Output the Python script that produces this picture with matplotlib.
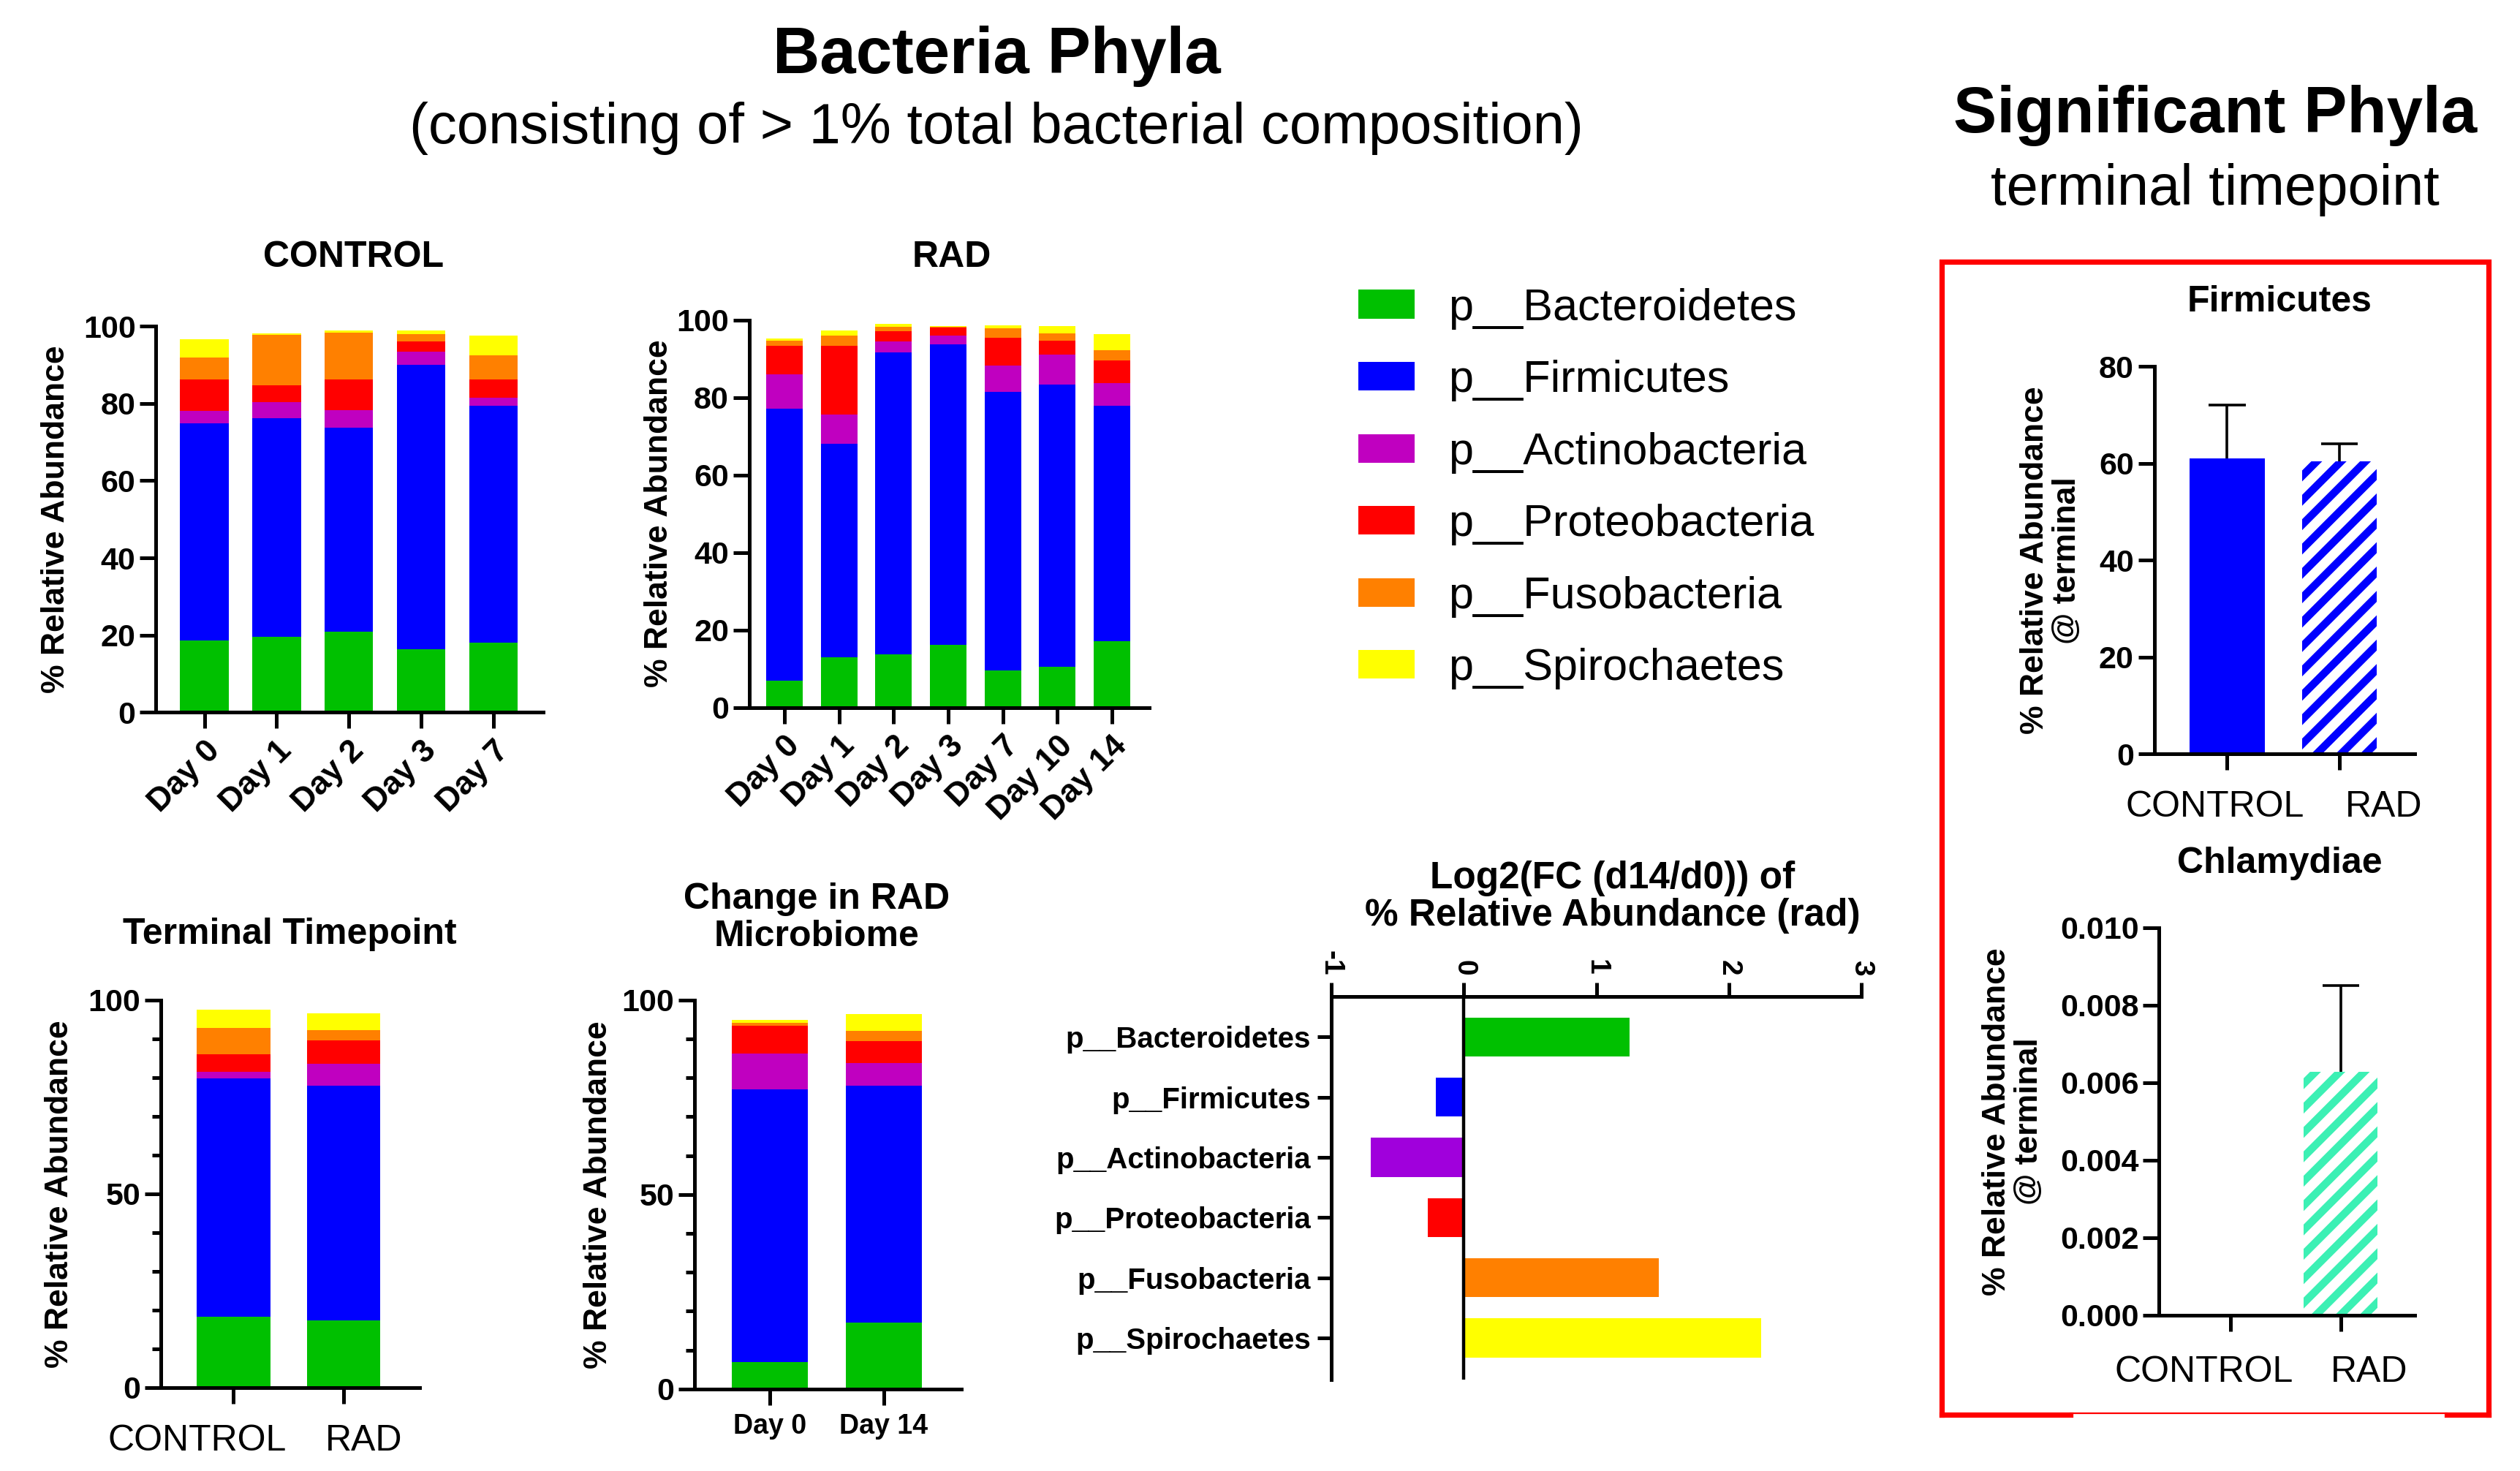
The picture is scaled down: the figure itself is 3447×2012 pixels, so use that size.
import numpy as np
import matplotlib
matplotlib.use('Agg')
import matplotlib.pyplot as plt
from matplotlib.ticker import MultipleLocator
from matplotlib.lines import Line2D
from matplotlib.patches import Patch
import matplotlib.transforms as mtransforms

plt.rcParams['font.family'] = ['Liberation Sans', 'DejaVu Sans']
plt.rcParams['axes.unicode_minus'] = False
plt.rcParams['hatch.linewidth'] = 3.8

# ---------------- data ----------------
phyla = ['p__Bacteroidetes', 'p__Firmicutes', 'p__Actinobacteria',
         'p__Proteobacteria', 'p__Fusobacteria', 'p__Spirochaetes']
colors = ['#00C000', '#0000FF', '#C000C0', '#FF0000', '#FF8000', '#FFFF00']
log2_colors = ['#00C000', '#0000FF', '#A000DC', '#FF0000', '#FF8000', '#FFFF00']

control_days = ['Day 0', 'Day 1', 'Day 2', 'Day 3', 'Day 7']
control_bact = [18.6, 19.6, 20.8, 16.3, 18.1]
control_firm = [56.3, 56.6, 52.9, 73.8, 61.4]
control_actino = [3.1, 4.1, 4.6, 3.3, 2.0]
control_proteo = [8.2, 4.4, 7.9, 2.6, 4.7]
control_fuso = [5.8, 13.1, 12.2, 1.9, 6.2]
control_spiro = [4.7, 0.4, 0.6, 1.0, 5.3]

rad_days = ['Day 0', 'Day 1', 'Day 2', 'Day 3', 'Day 7', 'Day 10', 'Day 14']
rad_bact = [6.8, 13.0, 13.7, 16.1, 9.6, 10.4, 17.0]
rad_firm = [70.2, 55.1, 78.0, 77.5, 71.8, 73.0, 60.9]
rad_actino = [9.0, 7.4, 2.7, 2.3, 6.9, 7.6, 5.8]
rad_proteo = [7.4, 17.9, 2.7, 2.1, 7.1, 3.6, 5.9]
rad_fuso = [1.2, 2.5, 1.2, 0.2, 2.4, 2.0, 2.6]
rad_spiro = [0.6, 1.3, 0.7, 0.3, 0.8, 1.8, 4.1]

groups = ['CONTROL', 'RAD']
term_bact = [18.3, 17.3]
term_firm = [61.5, 60.6]
term_actino = [1.7, 5.7]
term_proteo = [4.5, 6.0]
term_fuso = [6.7, 2.7]
term_spiro = [4.8, 4.3]

change_days = ['Day 0', 'Day 14']
change_bact = [7.0, 17.1]
change_firm = [70.1, 60.8]
change_actino = [9.1, 5.8]
change_proteo = [7.1, 5.8]
change_fuso = [0.8, 2.6]
change_spiro = [0.8, 4.2]

log2fc = [1.25, -0.21, -0.70, -0.27, 1.47, 2.24]

firm_mean = [61.1, 60.5]
firm_err = [10.9, 3.6]
chlam_mean = [0.0, 0.00628]
chlam_err = [0.0, 0.00223]

# ---------------- layout helpers ----------------
W, H = 1568.0, 915.0


def rect(l, r, b, t):
    return [l / W, 1 - b / H, (r - l) / W, (b - t) / H]


def fx(x):
    return x / W


def fy(y):
    return 1 - y / H


fig = plt.figure(figsize=(17.24, 10.06), dpi=200)

LW = 1.8


def base_style(ax):
    for s in ['top', 'right']:
        ax.spines[s].set_visible(False)
    for s in ['left', 'bottom']:
        ax.spines[s].set_linewidth(LW)
    ax.tick_params(axis='both', which='major', width=LW, length=8, direction='out', color='black')
    ax.tick_params(axis='y', which='major', pad=2)


def stacked(ax, cats, layers):
    x = np.arange(len(cats))
    bottom = np.zeros(len(cats))
    for vals, c in zip(layers, colors):
        ax.bar(x, vals, bottom=bottom, width=0.67, color=c, linewidth=0)
        bottom += np.array(vals)
    return x


def shift_labels(ax, offsets):
    for lab, dx in zip(ax.get_xticklabels(), offsets):
        lab.set_transform(lab.get_transform() +
                          mtransforms.ScaledTranslation(dx / 72.0, 0, fig.dpi_scale_trans))


def ylab(ax, text, xc, size=16):
    ax.set_ylabel(text, fontsize=size, fontweight='bold', linespacing=1.1)
    ax.yaxis.label.set_va('center')
    ax.yaxis.set_label_coords(xc, 0.5)


# ---------------- CONTROL ----------------
ax = fig.add_axes(rect(97, 338, 443, 203))
x = stacked(ax, control_days, [control_bact, control_firm, control_actino,
                               control_proteo, control_fuso, control_spiro])
base_style(ax)
ax.set_xlim(-0.67, len(control_days) - 1 + 0.69)
ax.set_ylim(0, 100)
ax.set_yticks(np.arange(0, 101, 20), labels=[str(v) for v in range(0, 101, 20)],
              fontsize=15.5, fontweight='bold')
ax.set_xticks(x, labels=control_days, fontsize=16, fontweight='bold',
              rotation=45, ha='right', rotation_mode='anchor')
ylab(ax, '% Relative Abundance', (35 - 97) / 241)
fig.text(fx(220), fy(160), 'CONTROL', ha='center', va='center', fontsize=18, fontweight='bold')

# ---------------- RAD ----------------
ax = fig.add_axes(rect(466, 715, 440, 199))
x = stacked(ax, rad_days, [rad_bact, rad_firm, rad_actino, rad_proteo, rad_fuso, rad_spiro])
base_style(ax)
ax.set_xlim(-0.65, len(rad_days) - 1 + 0.69)
ax.set_ylim(0, 100)
ax.set_yticks(np.arange(0, 101, 20), labels=[str(v) for v in range(0, 101, 20)],
              fontsize=15.5, fontweight='bold')
ax.set_xticks(x, labels=rad_days, fontsize=16, fontweight='bold',
              rotation=45, ha='right', rotation_mode='anchor')
ylab(ax, '% Relative Abundance', (410 - 466) / 249)
fig.text(fx(592), fy(160), 'RAD', ha='center', va='center', fontsize=18, fontweight='bold')

# ---------------- Legend ----------------
handles = [Patch(facecolor=c, edgecolor='none') for c in colors]
fig.legend(handles, phyla, loc='upper left', bbox_to_anchor=(fx(845), fy(179)),
           frameon=False, fontsize=22, handlelength=1.26, handleheight=0.61,
           handletextpad=0.75, labelspacing=0.68, borderpad=0, borderaxespad=0)

# ---------------- Terminal Timepoint ----------------
ax = fig.add_axes(rect(100, 261, 863, 622))
x = stacked(ax, groups, [term_bact, term_firm, term_actino, term_proteo, term_fuso, term_spiro])
base_style(ax)
ax.set_xlim(-0.66, len(groups) - 1 + 0.69)
ax.set_ylim(0, 100)
ax.set_yticks([0, 50, 100], labels=['0', '50', '100'], fontsize=15.5, fontweight='bold')
ax.yaxis.set_minor_locator(MultipleLocator(10))
ax.tick_params(axis='y', which='minor', width=LW, length=4.5)
ax.set_xticks(x, labels=groups, fontsize=18)
ax.tick_params(axis='x', pad=10)
shift_labels(ax, [-18, 10])
ylab(ax, '% Relative Abundance', (37 - 100) / 161)
fig.text(fx(180), fy(581), 'Terminal Timepoint', ha='center', va='center', fontsize=18, fontweight='bold')

# ---------------- Change in RAD ----------------
ax = fig.add_axes(rect(432, 598, 864, 622))
x = stacked(ax, change_days, [change_bact, change_firm, change_actino,
                              change_proteo, change_fuso, change_spiro])
base_style(ax)
ax.set_xlim(-0.66, len(change_days) - 1 + 0.68)
ax.set_ylim(0, 100)
ax.set_yticks([0, 50, 100], labels=['0', '50', '100'], fontsize=15.5, fontweight='bold')
ax.yaxis.set_minor_locator(MultipleLocator(10))
ax.tick_params(axis='y', which='minor', width=LW, length=4.5)
ax.set_xticks(x, labels=change_days, fontsize=13.5, fontweight='bold')
ax.tick_params(axis='x', pad=4)
ylab(ax, '% Relative Abundance', (372 - 432) / 166)
fig.text(fx(508), fy(571), 'Change in RAD\nMicrobiome', ha='center', va='center',
         fontsize=18, fontweight='bold', linespacing=1.15)

# ---------------- Log2 FC ----------------
ax = fig.add_axes(rect(828, 1158, 858, 620))
yy = np.arange(len(phyla))
ax.barh(yy, log2fc, height=0.65, color=log2_colors, linewidth=0)
ax.set_xlim(-1, 3)
ax.set_ylim(len(phyla) - 1 + 0.69, -0.67)
ax.axvline(0, color='black', lw=1.6)
ax.spines['right'].set_visible(False)
ax.spines['bottom'].set_visible(False)
ax.spines['left'].set_linewidth(LW)
ax.spines['top'].set_linewidth(LW)
ax.xaxis.tick_top()
ax.tick_params(axis='both', width=LW, length=7, direction='out')
ax.set_xticks([-1, 0, 1, 2, 3], labels=['-1', '0', '1', '2', '3'], rotation=-90,
              fontsize=14, fontweight='bold')
ax.set_yticks(yy, labels=phyla, fontsize=14.5, fontweight='bold')
ax.tick_params(axis='y', pad=3)
fig.text(fx(1003), fy(558), 'Log2(FC (d14/d0)) of\n% Relative Abundance (rad)', ha='center',
         va='center', fontsize=18.5, fontweight='bold', linespacing=1.05)

# ---------------- Titles ----------------
fig.text(fx(620), fy(35), 'Bacteria Phyla', ha='center', va='center', fontsize=32, fontweight='bold')
fig.text(fx(620), fy(80), '(consisting of > 1% total bacterial composition)', ha='center',
         va='center', fontsize=28)
fig.text(fx(1378), fy(72), 'Significant Phyla', ha='center', va='center', fontsize=32, fontweight='bold')
fig.text(fx(1378), fy(118), 'terminal timepoint', ha='center', va='center', fontsize=28)

# ---------------- Firmicutes ----------------
ax = fig.add_axes(rect(1340, 1502, 469, 228))
xg = np.arange(len(groups))
ax.bar(xg[0], firm_mean[0], width=0.67, color='#0000FF', linewidth=0)
ax.bar(xg[1], firm_mean[1], width=0.67, facecolor='white', edgecolor='#0000FF',
       hatch='//', linewidth=0)
fm = np.array(firm_mean)
fe = np.array(firm_err)
ax.vlines(xg, fm, fm + fe, color='black', lw=1.3, zorder=3)
ax.hlines(fm + fe, xg - 0.165, xg + 0.165, color='black', lw=1.3, zorder=3)
base_style(ax)
ax.set_xlim(-0.65, 1.67)
ax.set_ylim(0, 80)
ax.set_yticks(np.arange(0, 81, 20), labels=[str(v) for v in range(0, 81, 20)],
              fontsize=15.5, fontweight='bold')
ax.set_xticks(xg, labels=groups, fontsize=18)
ax.tick_params(axis='x', pad=10)
shift_labels(ax, [-6, 22])
ylab(ax, '% Relative Abundance\n@ terminal', (1276 - 1340) / 162)
fig.text(fx(1418), fy(188), 'Firmicutes', ha='center', va='center', fontsize=18, fontweight='bold')

# ---------------- Chlamydiae ----------------
ax = fig.add_axes(rect(1343, 1502, 818, 577))
cm = np.array(chlam_mean)
ce = np.array(chlam_err)
ax.bar(xg, cm, width=0.67, facecolor='white', edgecolor='#3CF0B4', hatch='//', linewidth=0)
m = ce > 0
ax.vlines(xg[m], cm[m], cm[m] + ce[m], color='black', lw=1.3, zorder=3)
ax.hlines(cm[m] + ce[m], xg[m] - 0.165, xg[m] + 0.165, color='black', lw=1.3, zorder=3)
base_style(ax)
ax.set_xlim(-0.65, 1.67)
ax.set_ylim(0, 0.010)
ticks = np.arange(0, 0.0101, 0.002)
ax.set_yticks(ticks, labels=['%.3f' % t for t in ticks], fontsize=15.5, fontweight='bold')
ax.set_xticks(xg, labels=groups, fontsize=18)
ax.tick_params(axis='x', pad=12)
shift_labels(ax, [-13, 14])
ylab(ax, '% Relative Abundance\n@ terminal', (1252 - 1343) / 159)
fig.text(fx(1418), fy(537), 'Chlamydiae', ha='center', va='center', fontsize=18, fontweight='bold')

# ---------------- red frame ----------------
def fline(xs, ys, lw):
    fig.add_artist(Line2D([fx(v) for v in xs], [fy(v) for v in ys], color='red', lw=lw,
                          solid_capstyle='projecting', solid_joinstyle='miter'))


fline([1208, 1208, 1548, 1548], [880, 163, 163, 880], 2.6)
fline([1208, 1288], [880, 880], 2.6)
fline([1522, 1548], [880, 880], 2.6)
fline([1288, 1522], [879, 879], 0.8)

fig.savefig('out.png', dpi=200, facecolor='white')
